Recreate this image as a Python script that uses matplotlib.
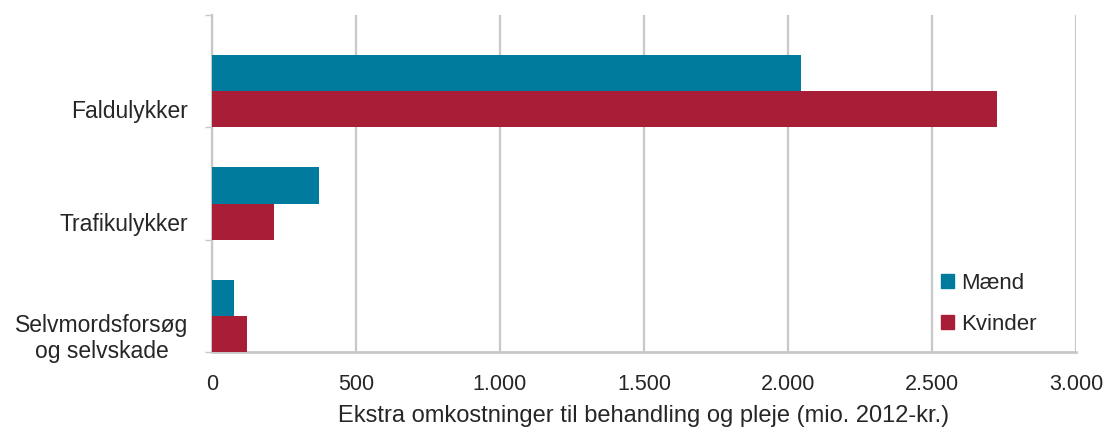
import matplotlib
matplotlib.use("Agg")
import matplotlib.pyplot as plt
from matplotlib.patches import Patch
import numpy as np

categories = ["Faldulykker", "Trafikulykker", "Selvmordsforsøg\nog selvskade"]
maend = [2045, 372, 76]
kvinder = [2726, 215, 122]
xticks = [0, 500, 1000, 1500, 2000, 2500, 3000]
xticklabels = ["0", "500", "1.000", "1.500", "2.000", "2.500", "3.000"]
series_names = ["Mænd", "Kvinder"]
xlabel = "Ekstra omkostninger til behandling og pleje (mio. 2012-kr.)"

c_m = "#007B9E"
c_k = "#A81E36"
grid_c = "#C8C8C8"
txt_c = "#262626"

plt.rcParams['font.family'] = ['Liberation Sans', 'DejaVu Sans']

fig = plt.figure(figsize=(11.1, 4.3), dpi=100)
ax = fig.add_axes([212/1110, 1-352/430, (1076-212)/1110, (352-15)/430])

idx = np.arange(len(categories))
h = 0.324
ax.barh(idx + 0.355, maend, height=h, align='edge', color=c_m, zorder=3)
ax.barh(idx + 0.355 + h, kvinder, height=1.0 - 0.355 - h, align='edge', color=c_k, zorder=3)

ax.set_ylim(3, 0)
ax.set_xlim(0, 3000)
ax.set_xticks(xticks)
ax.set_xticklabels(xticklabels, fontsize=15.5, color=txt_c)
ax.set_yticks(idx + 0.84)
ax.set_yticklabels(categories, fontsize=16.5, color=txt_c, multialignment='center')
ax.set_yticks(np.arange(4), minor=True)
ax.tick_params(axis='y', which='major', length=0, pad=17)
ax.tick_params(axis='y', which='minor', length=5, color=grid_c, width=1)
ax.tick_params(axis='x', which='major', length=0, pad=16)

ax.grid(axis='x', color=grid_c, linewidth=1.6, zorder=0)
for s in ['top', 'right']:
    ax.spines[s].set_visible(False)
ax.spines['left'].set_color(grid_c)
ax.spines['left'].set_linewidth(1.6)
ax.spines['bottom'].set_color(grid_c)
ax.spines['bottom'].set_linewidth(2)
ax.spines['left'].set_zorder(1)

ax.set_xlabel(xlabel, fontsize=17, color=txt_c, labelpad=7)

handles = [Patch(color=c_m), Patch(color=c_k)]
leg = ax.legend(handles, series_names, loc='upper left',
                bbox_to_anchor=(930/1110, 1-262/430), bbox_transform=fig.transFigure,
                frameon=False, fontsize=16, handlelength=0.6, handleheight=0.6,
                handletextpad=0.3, labelspacing=0.9, borderpad=0)
for t in leg.get_texts():
    t.set_color(txt_c)

fig.savefig("out.png", dpi=100)
